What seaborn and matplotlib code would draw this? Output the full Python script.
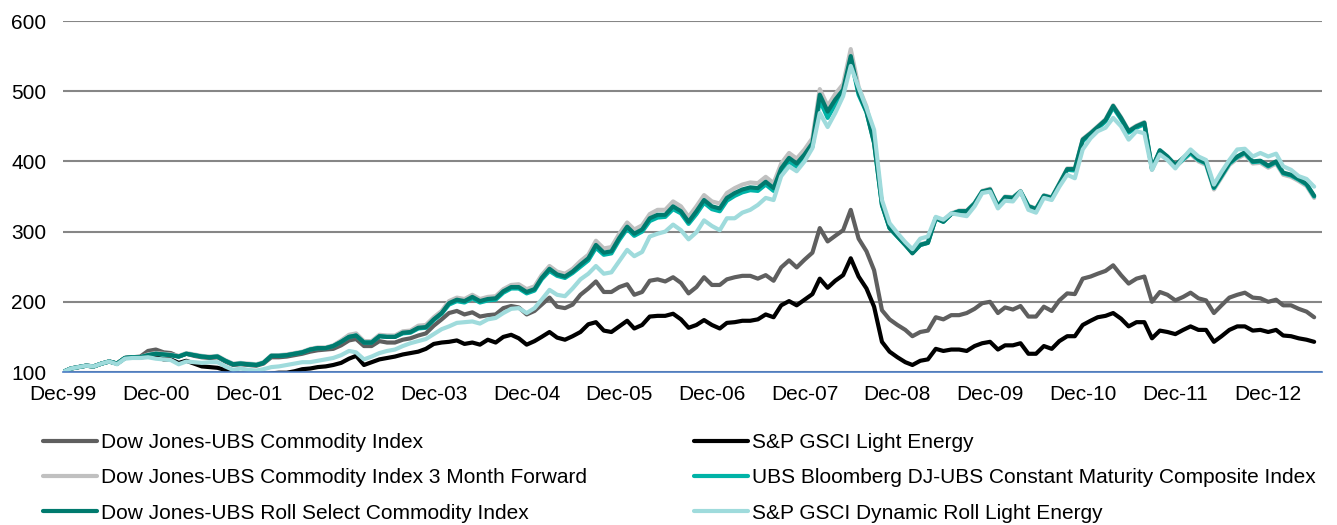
import matplotlib
matplotlib.use("Agg")
import matplotlib.pyplot as plt
import matplotlib.dates as mdates
import pandas as pd
import seaborn as sns

# meses de Dec-99 ate Jun-13 (indice base 100)
datas = pd.date_range("1999-12-31", periods=163, freq="ME")

dj_ubs = [100,
          105, 107, 109, 108, 112, 115, 112, 120, 121, 122, 130, 132,
          128, 127, 122, 126, 123, 121, 120, 121, 115, 110, 111, 110,
          109, 112, 121, 121, 122, 124, 126, 129, 131, 132, 133, 138,
          145, 147, 137, 137, 144, 142, 142, 146, 148, 152, 155, 166,
          175, 184, 187, 182, 185, 179, 181, 182, 191, 194, 192, 182,
          187, 196, 206, 193, 191, 196, 210, 219, 229, 214, 214, 221,
          225, 210, 214, 230, 232, 229, 235, 227, 212, 221, 235, 224,
          224, 232, 235, 237, 237, 233, 238, 230, 249, 259, 249, 260,
          270, 305, 286, 294, 302, 331, 290, 272, 245, 188, 175, 167,
          160, 151, 157, 159, 178, 175, 181, 181, 184, 190, 198, 200,
          184, 192, 189, 194, 179, 179, 193, 187, 202, 212, 211, 233,
          236, 240, 244, 252, 238, 226, 233, 236, 200, 214, 210, 202,
          207, 213, 205, 202, 184, 195, 206, 210, 213, 206, 205, 200,
          203, 195, 195, 190, 186, 178]

gsci_light = [100,
              105, 107, 109, 108, 112, 115, 112, 120, 121, 121, 122, 121,
              118, 118, 113, 116, 112, 108, 107, 106, 103, 98, 97, 96,
              96, 96, 98, 99, 99, 101, 104, 105, 107, 108, 110, 113,
              119, 123, 110, 114, 118, 120, 122, 125, 127, 129, 133, 140,
              142, 143, 145, 140, 142, 139, 146, 142, 150, 153, 148, 139,
              144, 150, 157, 149, 146, 151, 157, 168, 171, 159, 157, 165,
              173, 162, 167, 179, 180, 180, 183, 175, 163, 167, 174, 167,
              162, 170, 171, 173, 173, 175, 182, 178, 195, 201, 195, 203,
              211, 233, 220, 230, 238, 262, 236, 219, 193, 143, 129, 121,
              114, 110, 116, 118, 133, 130, 132, 132, 130, 137, 141, 143,
              132, 138, 138, 141, 126, 126, 137, 133, 144, 151, 151, 167,
              173, 178, 180, 184, 176, 165, 171, 171, 148, 159, 157, 154,
              160, 165, 160, 160, 143, 151, 160, 165, 165, 159, 160, 157,
              160, 152, 151, 148, 146, 143]

dj_ubs_3m = [100,
             105, 107, 109, 108, 112, 115, 112, 120, 121, 121, 125, 127,
             126, 125, 123, 127, 125, 123, 122, 123, 117, 112, 113, 112,
             111, 114, 124, 124, 125, 127, 129, 133, 135, 135, 138, 145,
             153, 155, 144, 144, 153, 152, 152, 158, 159, 166, 167, 178,
             187, 201, 206, 204, 210, 204, 207, 208, 218, 224, 225, 218,
             222, 238, 251, 243, 240, 247, 258, 267, 287, 276, 278, 297,
             313, 303, 309, 325, 331, 331, 343, 336, 321, 336, 352, 343,
             340, 355, 362, 367, 370, 369, 378, 369, 397, 412, 404, 417,
             433, 503, 479, 496, 510, 560, 506, 478, 432, 340, 306, 294,
             282, 270, 282, 285, 320, 315, 326, 330, 330, 341, 358, 361,
             337, 350, 349, 358, 337, 333, 352, 349, 369, 390, 390, 432,
             441, 450, 460, 480, 463, 444, 451, 456, 388, 414, 405, 392,
             402, 411, 400, 395, 360, 377, 395, 404, 410, 397, 398, 391,
             397, 381, 378, 372, 365, 348]

cmci = [100,
        105, 107, 109, 108, 112, 115, 112, 120, 121, 121, 124, 126,
        125, 124, 122, 126, 124, 122, 121, 122, 116, 111, 112, 111,
        110, 113, 123, 123, 124, 126, 128, 132, 134, 134, 137, 143,
        150, 152, 142, 142, 151, 150, 150, 155, 156, 162, 163, 174,
        183, 196, 201, 199, 205, 199, 202, 203, 213, 219, 219, 212,
        216, 232, 244, 237, 234, 241, 250, 259, 277, 267, 269, 288,
        304, 294, 300, 315, 320, 321, 332, 326, 311, 325, 341, 332,
        329, 344, 351, 356, 359, 358, 367, 358, 385, 400, 392, 405,
        421, 487, 462, 481, 497, 546, 495, 470, 427, 338, 305, 293,
        281, 270, 281, 284, 319, 314, 325, 329, 329, 340, 357, 359,
        336, 349, 348, 357, 336, 332, 351, 348, 367, 388, 387, 429,
        438, 447, 457, 477, 460, 441, 448, 453, 389, 415, 405, 393,
        403, 412, 402, 397, 362, 379, 397, 406, 412, 399, 400, 393,
        399, 383, 380, 374, 367, 350]

roll_select = [100,
               105, 107, 109, 108, 112, 115, 112, 120, 121, 121, 124, 126,
               125, 124, 122, 126, 124, 122, 121, 122, 116, 111, 112, 111,
               110, 113, 123, 123, 124, 126, 128, 132, 134, 134, 137, 143,
               150, 152, 142, 142, 151, 150, 150, 156, 157, 163, 164, 175,
               184, 198, 203, 201, 207, 201, 204, 205, 215, 221, 221, 214,
               218, 234, 247, 239, 236, 243, 253, 262, 281, 270, 272, 291,
               307, 297, 303, 319, 324, 324, 336, 329, 314, 329, 345, 336,
               333, 348, 355, 360, 363, 362, 371, 362, 390, 405, 397, 410,
               426, 495, 471, 488, 502, 550, 498, 471, 426, 338, 305, 293,
               281, 269, 281, 284, 319, 314, 325, 329, 329, 340, 357, 360,
               336, 349, 348, 357, 336, 332, 351, 348, 368, 389, 389, 431,
               440, 449, 459, 479, 462, 443, 450, 455, 390, 416, 407, 395,
               405, 414, 403, 398, 363, 380, 398, 407, 413, 400, 401, 394,
               400, 384, 381, 375, 368, 351]

dyn_roll = [100,
            105, 107, 109, 108, 112, 115, 111, 119, 120, 120, 121, 119,
            118, 117, 111, 115, 114, 113, 114, 114, 108, 103, 105, 103,
            102, 104, 107, 108, 110, 112, 114, 114, 116, 118, 120, 124,
            130, 128, 118, 122, 127, 130, 132, 137, 141, 144, 147, 154,
            161, 165, 170, 171, 172, 169, 175, 177, 184, 190, 191, 184,
            191, 203, 217, 210, 208, 219, 232, 240, 251, 240, 242, 258,
            274, 265, 271, 293, 297, 300, 310, 302, 289, 299, 316, 308,
            302, 319, 319, 327, 331, 338, 348, 345, 379, 393, 386, 400,
            419, 469, 449, 469, 493, 536, 505, 476, 445, 345, 312, 298,
            285, 275, 290, 293, 321, 317, 326, 324, 322, 336, 355, 357,
            333, 344, 343, 357, 331, 327, 348, 345, 364, 381, 376, 417,
            433, 443, 448, 462, 450, 431, 443, 440, 388, 410, 402, 390,
            405, 417, 407, 402, 367, 385, 402, 417, 418, 407, 412, 407,
            411, 393, 388, 379, 375, 364]

nomes = ["Dow Jones-UBS Commodity Index",
         "S&P GSCI Light Energy",
         "Dow Jones-UBS Commodity Index 3 Month Forward",
         "UBS Bloomberg DJ-UBS Constant Maturity Composite Index",
         "Dow Jones-UBS Roll Select Commodity Index",
         "S&P GSCI Dynamic Roll Light Energy"]
series = [dj_ubs, gsci_light, dj_ubs_3m, cmci, roll_select, dyn_roll]
cores = ["#5f5f5f", "#000000", "#c0c0c0", "#00b3a7", "#007a6e", "#9fdbdc"]

for s in series:
    assert len(s) == len(datas)

df = pd.concat([pd.DataFrame({"Data": datas, "Valor": s, "Indice": n})
                for n, s in zip(nomes, series)], ignore_index=True)

sns.set_style("white")
plt.rcParams["font.family"] = ["Liberation Sans", "DejaVu Sans"]
plt.rcParams["text.color"] = "black"

fig = plt.figure(figsize=(13.37, 5.25), dpi=100)
ax = fig.add_axes([0.0471, 0.2914, 0.9417, 0.6686])

# desenha na ordem do Excel (ultima serie por cima)
linhas = {}
for n, c in zip(nomes, cores):
    sns.lineplot(data=df[df["Indice"] == n], x="Data", y="Valor", color=c,
                 linewidth=3.0, ax=ax, label=n, legend=False)
    linhas[n] = ax.lines[-1]

ax.set_ylim(100, 600)
ax.set_xlim(datas[0], pd.Timestamp("2013-07-31"))
ax.set_yticks([100, 200, 300, 400, 500, 600])
ax.set_xticks([pd.Timestamp(f"{a}-12-31") for a in range(1999, 2013)])
ax.xaxis.set_major_formatter(mdates.DateFormatter("%b-%y"))
ax.yaxis.grid(True, color="#868686", linewidth=1.5)
ax.set_axisbelow(True)
ax.set_xlabel("")
ax.set_ylabel("")
for lado in ["top", "right", "left"]:
    ax.spines[lado].set_visible(False)
ax.spines["bottom"].set_color("#4a7cc4")
ax.spines["bottom"].set_linewidth(1.2)
ax.tick_params(axis="both", length=0, labelsize=15, colors="black")
ax.tick_params(axis="y", pad=12)
ax.tick_params(axis="x", pad=9)

# legenda em duas colunas
col1 = [nomes[0], nomes[2], nomes[4]]
col2 = [nomes[1], nomes[3], nomes[5]]
opts = dict(frameon=False, fontsize=15, handlelength=2.6, handletextpad=0.2,
            labelspacing=0.78, borderpad=0, loc="upper left",
            labelcolor="black")
fig.legend([linhas[n] for n in col1], col1, bbox_to_anchor=(0.024, 0.195), **opts)
fig.legend([linhas[n] for n in col2], col2, bbox_to_anchor=(0.511, 0.195), **opts)

fig.savefig("out.png", dpi=100)
plt.close(fig)
